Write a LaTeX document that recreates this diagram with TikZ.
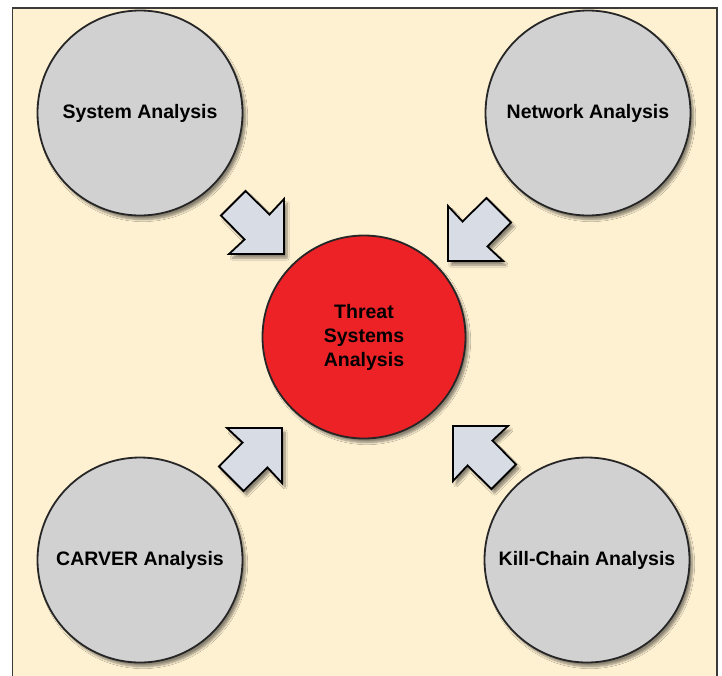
\documentclass[tikz,border=0pt]{standalone}
\usepackage{fontspec}
\setmainfont{Liberation Sans}
\usetikzlibrary{shadows.blur}
\definecolor{cream}{HTML}{FEF1D2}
\definecolor{framegray}{HTML}{3A3A3A}
\definecolor{circgray}{HTML}{D1D1D1}
\definecolor{threatred}{HTML}{EC2227}
\definecolor{arrowfill}{HTML}{D8DCE4}
\tikzset{
  softshadow/.style={blur shadow={shadow xshift=3pt, shadow yshift=-4pt, shadow blur steps=8, shadow opacity=45}},
  topic/.style={circle, draw=black!85, line width=1.8pt, fill=circgray, minimum size=205pt, inner sep=0pt,
    font=\fontsize{19.5}{24}\selectfont\bfseries, align=center, softshadow},
  threat/.style={topic, fill=threatred, minimum size=203pt},
  bigarrow/.style={draw=black, line width=1.8pt, fill=arrowfill, line join=miter, softshadow},
}
\begin{document}
\begin{tikzpicture}[x=1pt,y=-1pt]
\useasboundingbox (0,0) rectangle (722,675);
\fill[cream] (12.5,8) rectangle (717,676);
\draw[framegray, line width=1.4pt] (12.5,676) -- (12.5,8) -- (717,8) -- (717,676);
\node[topic] (sys) at (140,113) {System Analysis};
\node[topic] (net) at (588,113) {Network Analysis};
\node[topic] (carver) at (140,560) {CARVER Analysis};
\node[topic] (kill) at (587,560) {Kill-Chain Analysis};
\node[threat] (tsa) at (364,337) {Threat\\Systems\\Analysis};
\draw[bigarrow] (284,254) -- (229,254) -- (244.5,239.5) -- (221,215.5) -- (245.5,191) -- (269.5,214.5) -- (284,199) -- cycle;
\draw[bigarrow] (448,261) -- (503,261) -- (487.5,246.5) -- (511,222.5) -- (486.5,198) -- (462.5,221.5) -- (448,206) -- cycle;
\draw[bigarrow] (282,428) -- (227,428) -- (242.5,442.5) -- (219,466.5) -- (243.5,491) -- (267.5,467.5) -- (282,483) -- cycle;
\draw[bigarrow] (453,426) -- (508,426) -- (492.5,440.5) -- (516,464.5) -- (491.5,489) -- (467.5,465.5) -- (453,481) -- cycle;
\end{tikzpicture}
\end{document}
